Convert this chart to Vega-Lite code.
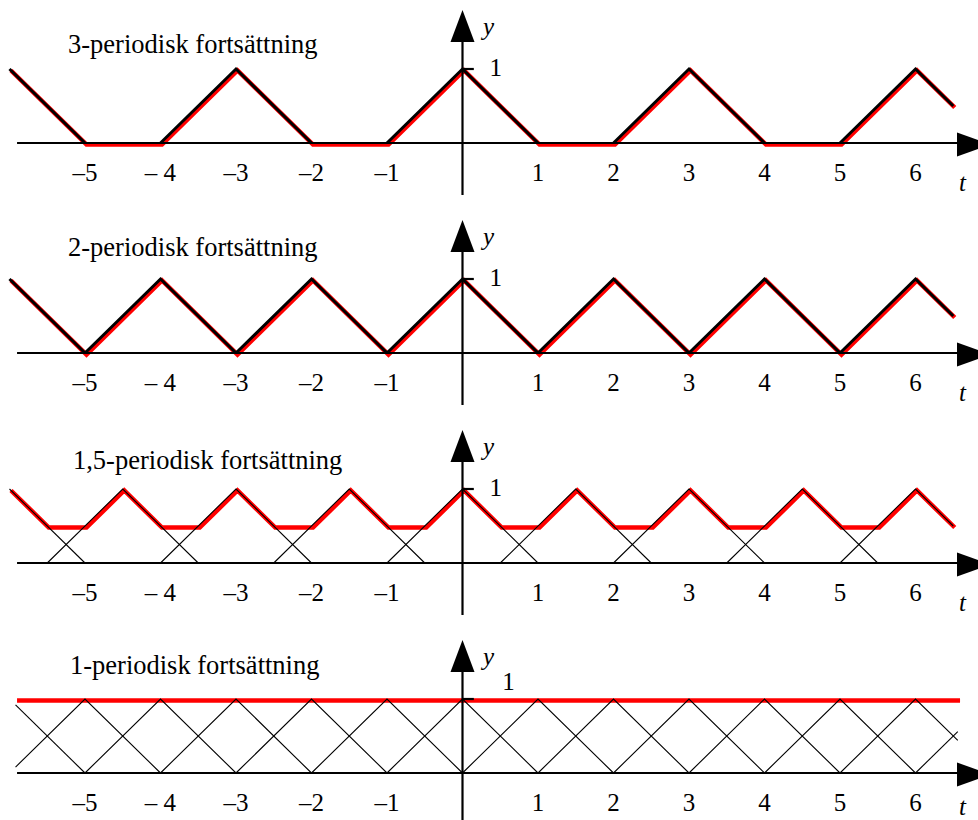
{
  "$schema": "https://vega.github.io/schema/vega-lite/v6.json",
  "padding": 0,
  "bounds": "flush",
  "spacing": 20,
  "background": "white",
  "data": {"values": [
    {"k":"red","p":1,"t":-6,"v":1},{"k":"red","p":1,"t":-5,"v":0},{"k":"red","p":1,"t":-4,"v":0},{"k":"red","p":1,"t":-3,"v":1},{"k":"red","p":1,"t":-2,"v":0},{"k":"red","p":1,"t":-1,"v":0},{"k":"red","p":1,"t":0,"v":1},{"k":"red","p":1,"t":1,"v":0},{"k":"red","p":1,"t":2,"v":0},{"k":"red","p":1,"t":3,"v":1},{"k":"red","p":1,"t":4,"v":0},{"k":"red","p":1,"t":5,"v":0},{"k":"red","p":1,"t":6,"v":1},{"k":"red","p":1,"t":6.5,"v":0.5},
    {"k":"red","p":2,"t":-6,"v":1},{"k":"red","p":2,"t":-5,"v":0},{"k":"red","p":2,"t":-4,"v":1},{"k":"red","p":2,"t":-3,"v":0},{"k":"red","p":2,"t":-2,"v":1},{"k":"red","p":2,"t":-1,"v":0},{"k":"red","p":2,"t":0,"v":1},{"k":"red","p":2,"t":1,"v":0},{"k":"red","p":2,"t":2,"v":1},{"k":"red","p":2,"t":3,"v":0},{"k":"red","p":2,"t":4,"v":1},{"k":"red","p":2,"t":5,"v":0},{"k":"red","p":2,"t":6,"v":1},{"k":"red","p":2,"t":6.5,"v":0.5},
    {"k":"red","p":3,"t":-6,"v":1},{"k":"red","p":3,"t":-5.5,"v":0.5},{"k":"red","p":3,"t":-5,"v":0.5},{"k":"red","p":3,"t":-4.5,"v":1},{"k":"red","p":3,"t":-4,"v":0.5},{"k":"red","p":3,"t":-3.5,"v":0.5},{"k":"red","p":3,"t":-3,"v":1},{"k":"red","p":3,"t":-2.5,"v":0.5},{"k":"red","p":3,"t":-2,"v":0.5},{"k":"red","p":3,"t":-1.5,"v":1},{"k":"red","p":3,"t":-1,"v":0.5},{"k":"red","p":3,"t":-0.5,"v":0.5},{"k":"red","p":3,"t":0,"v":1},{"k":"red","p":3,"t":0.5,"v":0.5},{"k":"red","p":3,"t":1,"v":0.5},{"k":"red","p":3,"t":1.5,"v":1},{"k":"red","p":3,"t":2,"v":0.5},{"k":"red","p":3,"t":2.5,"v":0.5},{"k":"red","p":3,"t":3,"v":1},{"k":"red","p":3,"t":3.5,"v":0.5},{"k":"red","p":3,"t":4,"v":0.5},{"k":"red","p":3,"t":4.5,"v":1},{"k":"red","p":3,"t":5,"v":0.5},{"k":"red","p":3,"t":5.5,"v":0.5},{"k":"red","p":3,"t":6,"v":1},{"k":"red","p":3,"t":6.5,"v":0.5},
    {"k":"red","p":4,"t":-5.92,"v":1},{"k":"red","p":4,"t":6.57,"v":1},

    {"k":"tri","p":1,"g":"a","t":-6,"v":1},{"k":"tri","p":1,"g":"a","t":-5,"v":0},
    {"k":"tri","p":1,"g":"b","t":-4,"v":0},{"k":"tri","p":1,"g":"b","t":-3,"v":1},{"k":"tri","p":1,"g":"b","t":-2,"v":0},
    {"k":"tri","p":1,"g":"c","t":-1,"v":0},{"k":"tri","p":1,"g":"c","t":0,"v":1},{"k":"tri","p":1,"g":"c","t":1,"v":0},
    {"k":"tri","p":1,"g":"d","t":2,"v":0},{"k":"tri","p":1,"g":"d","t":3,"v":1},{"k":"tri","p":1,"g":"d","t":4,"v":0},
    {"k":"tri","p":1,"g":"e","t":5,"v":0},{"k":"tri","p":1,"g":"e","t":6,"v":1},{"k":"tri","p":1,"g":"e","t":6.5,"v":0.5},

    {"k":"tri","p":2,"g":"a","t":-6,"v":1},{"k":"tri","p":2,"g":"a","t":-5,"v":0},
    {"k":"tri","p":2,"g":"b","t":-5,"v":0},{"k":"tri","p":2,"g":"b","t":-4,"v":1},{"k":"tri","p":2,"g":"b","t":-3,"v":0},
    {"k":"tri","p":2,"g":"c","t":-3,"v":0},{"k":"tri","p":2,"g":"c","t":-2,"v":1},{"k":"tri","p":2,"g":"c","t":-1,"v":0},
    {"k":"tri","p":2,"g":"d","t":-1,"v":0},{"k":"tri","p":2,"g":"d","t":0,"v":1},{"k":"tri","p":2,"g":"d","t":1,"v":0},
    {"k":"tri","p":2,"g":"e","t":1,"v":0},{"k":"tri","p":2,"g":"e","t":2,"v":1},{"k":"tri","p":2,"g":"e","t":3,"v":0},
    {"k":"tri","p":2,"g":"f","t":3,"v":0},{"k":"tri","p":2,"g":"f","t":4,"v":1},{"k":"tri","p":2,"g":"f","t":5,"v":0},
    {"k":"tri","p":2,"g":"g","t":5,"v":0},{"k":"tri","p":2,"g":"g","t":6,"v":1},{"k":"tri","p":2,"g":"g","t":6.5,"v":0.5},

    {"k":"tri","p":3,"g":"a","t":-6,"v":1},{"k":"tri","p":3,"g":"a","t":-5,"v":0},
    {"k":"tri","p":3,"g":"b","t":-5.5,"v":0},{"k":"tri","p":3,"g":"b","t":-4.5,"v":1},{"k":"tri","p":3,"g":"b","t":-3.5,"v":0},
    {"k":"tri","p":3,"g":"c","t":-4,"v":0},{"k":"tri","p":3,"g":"c","t":-3,"v":1},{"k":"tri","p":3,"g":"c","t":-2,"v":0},
    {"k":"tri","p":3,"g":"d","t":-2.5,"v":0},{"k":"tri","p":3,"g":"d","t":-1.5,"v":1},{"k":"tri","p":3,"g":"d","t":-0.5,"v":0},
    {"k":"tri","p":3,"g":"e","t":-1,"v":0},{"k":"tri","p":3,"g":"e","t":0,"v":1},{"k":"tri","p":3,"g":"e","t":1,"v":0},
    {"k":"tri","p":3,"g":"f","t":0.5,"v":0},{"k":"tri","p":3,"g":"f","t":1.5,"v":1},{"k":"tri","p":3,"g":"f","t":2.5,"v":0},
    {"k":"tri","p":3,"g":"g","t":2,"v":0},{"k":"tri","p":3,"g":"g","t":3,"v":1},{"k":"tri","p":3,"g":"g","t":4,"v":0},
    {"k":"tri","p":3,"g":"h","t":3.5,"v":0},{"k":"tri","p":3,"g":"h","t":4.5,"v":1},{"k":"tri","p":3,"g":"h","t":5.5,"v":0},
    {"k":"tri","p":3,"g":"i","t":5,"v":0},{"k":"tri","p":3,"g":"i","t":6,"v":1},{"k":"tri","p":3,"g":"i","t":6.5,"v":0.5},

    {"k":"tri","p":4,"g":"a","t":-5.92,"v":0.92},{"k":"tri","p":4,"g":"a","t":-5,"v":0},
    {"k":"tri","p":4,"g":"b","t":-5.92,"v":0.08},{"k":"tri","p":4,"g":"b","t":-5,"v":1},{"k":"tri","p":4,"g":"b","t":-4,"v":0},
    {"k":"tri","p":4,"g":"c","t":-5,"v":0},{"k":"tri","p":4,"g":"c","t":-4,"v":1},{"k":"tri","p":4,"g":"c","t":-3,"v":0},
    {"k":"tri","p":4,"g":"d","t":-4,"v":0},{"k":"tri","p":4,"g":"d","t":-3,"v":1},{"k":"tri","p":4,"g":"d","t":-2,"v":0},
    {"k":"tri","p":4,"g":"e","t":-3,"v":0},{"k":"tri","p":4,"g":"e","t":-2,"v":1},{"k":"tri","p":4,"g":"e","t":-1,"v":0},
    {"k":"tri","p":4,"g":"f","t":-2,"v":0},{"k":"tri","p":4,"g":"f","t":-1,"v":1},{"k":"tri","p":4,"g":"f","t":0,"v":0},
    {"k":"tri","p":4,"g":"g","t":-1,"v":0},{"k":"tri","p":4,"g":"g","t":0,"v":1},{"k":"tri","p":4,"g":"g","t":1,"v":0},
    {"k":"tri","p":4,"g":"h","t":0,"v":0},{"k":"tri","p":4,"g":"h","t":1,"v":1},{"k":"tri","p":4,"g":"h","t":2,"v":0},
    {"k":"tri","p":4,"g":"i","t":1,"v":0},{"k":"tri","p":4,"g":"i","t":2,"v":1},{"k":"tri","p":4,"g":"i","t":3,"v":0},
    {"k":"tri","p":4,"g":"j","t":2,"v":0},{"k":"tri","p":4,"g":"j","t":3,"v":1},{"k":"tri","p":4,"g":"j","t":4,"v":0},
    {"k":"tri","p":4,"g":"k","t":3,"v":0},{"k":"tri","p":4,"g":"k","t":4,"v":1},{"k":"tri","p":4,"g":"k","t":5,"v":0},
    {"k":"tri","p":4,"g":"l","t":4,"v":0},{"k":"tri","p":4,"g":"l","t":5,"v":1},{"k":"tri","p":4,"g":"l","t":6,"v":0},
    {"k":"tri","p":4,"g":"m","t":5,"v":0},{"k":"tri","p":4,"g":"m","t":6,"v":1},{"k":"tri","p":4,"g":"m","t":6.56,"v":0.44},
    {"k":"tri","p":4,"g":"n","t":6,"v":0},{"k":"tri","p":4,"g":"n","t":6.56,"v":0.56},

    {"k":"tick","p":1,"t":-5,"lab":"–5"},{"k":"tick","p":1,"t":-4,"lab":"– 4"},{"k":"tick","p":1,"t":-3,"lab":"–3"},{"k":"tick","p":1,"t":-2,"lab":"–2"},{"k":"tick","p":1,"t":-1,"lab":"–1"},{"k":"tick","p":1,"t":1,"lab":"1"},{"k":"tick","p":1,"t":2,"lab":"2"},{"k":"tick","p":1,"t":3,"lab":"3"},{"k":"tick","p":1,"t":4,"lab":"4"},{"k":"tick","p":1,"t":5,"lab":"5"},{"k":"tick","p":1,"t":6,"lab":"6"},
    {"k":"tick","p":2,"t":-5,"lab":"–5"},{"k":"tick","p":2,"t":-4,"lab":"– 4"},{"k":"tick","p":2,"t":-3,"lab":"–3"},{"k":"tick","p":2,"t":-2,"lab":"–2"},{"k":"tick","p":2,"t":-1,"lab":"–1"},{"k":"tick","p":2,"t":1,"lab":"1"},{"k":"tick","p":2,"t":2,"lab":"2"},{"k":"tick","p":2,"t":3,"lab":"3"},{"k":"tick","p":2,"t":4,"lab":"4"},{"k":"tick","p":2,"t":5,"lab":"5"},{"k":"tick","p":2,"t":6,"lab":"6"},
    {"k":"tick","p":3,"t":-5,"lab":"–5"},{"k":"tick","p":3,"t":-4,"lab":"– 4"},{"k":"tick","p":3,"t":-3,"lab":"–3"},{"k":"tick","p":3,"t":-2,"lab":"–2"},{"k":"tick","p":3,"t":-1,"lab":"–1"},{"k":"tick","p":3,"t":1,"lab":"1"},{"k":"tick","p":3,"t":2,"lab":"2"},{"k":"tick","p":3,"t":3,"lab":"3"},{"k":"tick","p":3,"t":4,"lab":"4"},{"k":"tick","p":3,"t":5,"lab":"5"},{"k":"tick","p":3,"t":6,"lab":"6"},
    {"k":"tick","p":4,"t":-5,"lab":"–5"},{"k":"tick","p":4,"t":-4,"lab":"– 4"},{"k":"tick","p":4,"t":-3,"lab":"–3"},{"k":"tick","p":4,"t":-2,"lab":"–2"},{"k":"tick","p":4,"t":-1,"lab":"–1"},{"k":"tick","p":4,"t":1,"lab":"1"},{"k":"tick","p":4,"t":2,"lab":"2"},{"k":"tick","p":4,"t":3,"lab":"3"},{"k":"tick","p":4,"t":4,"lab":"4"},{"k":"tick","p":4,"t":5,"lab":"5"},{"k":"tick","p":4,"t":6,"lab":"6"},

    {"k":"frame","p":1,"title":"3-periodisk fortsättning","tt":-5.225,"tv":1.216},
    {"k":"frame","p":2,"title":"2-periodisk fortsättning","tt":-5.225,"tv":1.315},
    {"k":"frame","p":3,"title":"1,5-periodisk fortsättning","tt":-5.159,"tv":1.27},
    {"k":"frame","p":4,"title":"1-periodisk fortsättning","tt":-5.199,"tv":1.338}
  ]},
  "facet": {"row": {"field": "p", "type": "ordinal", "title": null, "header": {"labels": false, "title": null}}},
  "spec": {
    "width": 978,
    "height": 190,
    "layer": [
      {
        "transform": [{"filter": "datum.k === 'red'"}],
        "mark": {"type": "line", "color": "#ff0000", "strokeWidth": 4.5, "xOffset": 1.5, "yOffset": 1.5},
        "encoding": {
          "x": {"field": "t", "type": "quantitative", "scale": {"domain": [-6.1258, 6.8278], "nice": false, "zero": false}, "axis": null},
          "y": {"field": "v", "type": "quantitative", "scale": {"domain": [-0.6351, 1.9324], "nice": false, "zero": false}, "axis": null}
        }
      },
      {
        "transform": [{"filter": "datum.k === 'frame'"}],
        "mark": {"type": "rule", "color": "black", "strokeWidth": 2.2},
        "encoding": {"x": {"datum": -5.9}, "x2": {"datum": 6.6}, "y": {"datum": 0}}
      },
      {
        "transform": [{"filter": "datum.k === 'frame' && datum.p < 4"}],
        "mark": {"type": "rule", "color": "black", "strokeWidth": 2.2},
        "encoding": {"x": {"datum": 0}, "y": {"datum": -0.703}, "y2": {"datum": 1.45}}
      },
      {
        "transform": [{"filter": "datum.k === 'frame' && datum.p === 4"}],
        "mark": {"type": "rule", "color": "black", "strokeWidth": 2.2},
        "encoding": {"x": {"datum": 0}, "y": {"datum": -0.635}, "y2": {"datum": 1.45}}
      },
      {
        "transform": [{"filter": "datum.k === 'frame'"}],
        "mark": {"type": "rule", "color": "black", "strokeWidth": 2.2},
        "encoding": {"x": {"datum": 0}, "x2": {"datum": 0.15}, "y": {"datum": 1}}
      },
      {
        "transform": [{"filter": "datum.k === 'tri' && datum.p <= 2"}],
        "mark": {"type": "line", "color": "black", "strokeWidth": 3},
        "encoding": {
          "x": {"field": "t", "type": "quantitative"},
          "y": {"field": "v", "type": "quantitative"},
          "detail": {"field": "g"}
        }
      },
      {
        "transform": [{"filter": "datum.k === 'tri' && datum.p >= 3"}],
        "mark": {"type": "line", "color": "black", "strokeWidth": 1.1},
        "encoding": {
          "x": {"field": "t", "type": "quantitative"},
          "y": {"field": "v", "type": "quantitative"},
          "detail": {"field": "g"}
        }
      },
      {
        "transform": [{"filter": "datum.k === 'frame'"}],
        "mark": {"type": "point", "filled": true, "color": "black", "opacity": 1, "strokeWidth": 0, "size": 1024, "shape": "M0,-1L0.75,1L-0.75,1Z"},
        "encoding": {"x": {"datum": 0}, "y": {"datum": 1.581}}
      },
      {
        "transform": [{"filter": "datum.k === 'frame'"}],
        "mark": {"type": "point", "filled": true, "color": "black", "opacity": 1, "strokeWidth": 0, "size": 576, "shape": "M-0.875,-1L0.875,-0.375L0.875,0.375L-0.875,1Z"},
        "encoding": {"x": {"datum": 6.689}, "y": {"datum": -0.02}}
      },
      {
        "transform": [{"filter": "datum.k === 'tick'"}],
        "mark": {"type": "text", "font": "Liberation Serif", "fontSize": 25, "align": "center", "baseline": "middle", "dy": 30, "color": "black"},
        "encoding": {"x": {"field": "t", "type": "quantitative"}, "y": {"datum": 0}, "text": {"field": "lab"}}
      },
      {
        "transform": [{"filter": "datum.k === 'frame'"}],
        "mark": {"type": "text", "font": "Liberation Serif", "fontSize": 26.5, "align": "left", "baseline": "alphabetic", "color": "black"},
        "encoding": {"x": {"field": "tt", "type": "quantitative"}, "y": {"field": "tv", "type": "quantitative"}, "text": {"field": "title"}}
      },
      {
        "transform": [{"filter": "datum.k === 'frame' && datum.p < 4"}],
        "mark": {"type": "text", "font": "Liberation Serif", "fontSize": 25, "align": "left", "baseline": "middle", "dx": 27, "dy": -1, "color": "black"},
        "encoding": {"x": {"datum": 0}, "y": {"datum": 1}, "text": {"value": "1"}}
      },
      {
        "transform": [{"filter": "datum.k === 'frame' && datum.p === 4"}],
        "mark": {"type": "text", "font": "Liberation Serif", "fontSize": 25, "align": "center", "baseline": "middle", "dx": 46, "dy": -17, "color": "black"},
        "encoding": {"x": {"datum": 0}, "y": {"datum": 1}, "text": {"value": "1"}}
      },
      {
        "transform": [{"filter": "datum.k === 'frame'"}],
        "mark": {"type": "text", "font": "Liberation Serif", "fontSize": 25, "fontStyle": "italic", "align": "center", "baseline": "middle", "dx": 26, "color": "black"},
        "encoding": {"x": {"datum": 0}, "y": {"datum": 1.57}, "text": {"value": "y"}}
      },
      {
        "transform": [{"filter": "datum.k === 'frame' && datum.p < 4"}],
        "mark": {"type": "text", "font": "Liberation Serif", "fontSize": 25, "fontStyle": "italic", "align": "center", "baseline": "middle", "dx": -5, "dy": 40, "color": "black"},
        "encoding": {"x": {"datum": 6.689}, "y": {"datum": 0}, "text": {"value": "t"}}
      },
      {
        "transform": [{"filter": "datum.k === 'frame' && datum.p === 4"}],
        "mark": {"type": "text", "font": "Liberation Serif", "fontSize": 25, "fontStyle": "italic", "align": "center", "baseline": "middle", "dx": -5, "dy": 34, "color": "black"},
        "encoding": {"x": {"datum": 6.689}, "y": {"datum": 0}, "text": {"value": "t"}}
      }
    ]
  },
  "config": {"view": {"stroke": null}, "axis": {"disable": true}}
}
